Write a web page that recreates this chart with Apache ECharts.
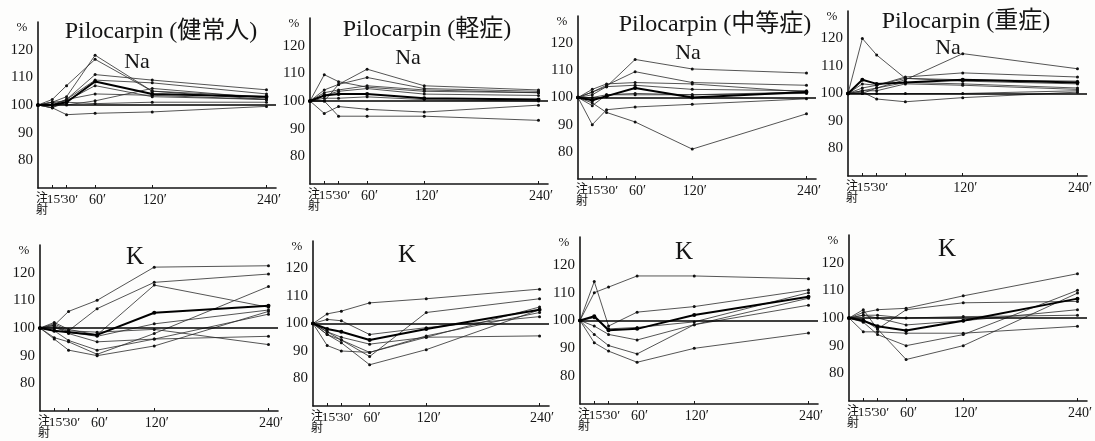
<!DOCTYPE html>
<html><head><meta charset="utf-8">
<script src="https://cdn.jsdelivr.net/npm/echarts@6/dist/echarts.min.js"></script>
<style>html,body{margin:0;padding:0;background:#fff}#c{width:1095px;height:441px}</style>
</head><body><div id="c"></div>
<script>
// ---------- data ----------
const times = [0, 15, 30, 60, 120, 240];
const xTickValues = [0, 15, 30, 60, 120, 240];
const xTickLabels = ['注\n射', '15′', '30′', '60′', '120′', '240′'];
const yTickLabels = [80, 90, 100, 110, 120];
const panelTitles = ['Pilocarpin (健常人)', 'Pilocarpin (軽症)', 'Pilocarpin (中等症)', 'Pilocarpin (重症)'];
const ionLabels = ['Na', 'Na', 'Na', 'Na', 'K', 'K', 'K', 'K'];
const unitLabel = '%';
const baseline = 100;
// the 60′ label is not printed under the Na (重症) panel in the original
const missingXLabels = [[], [], [], [60], [], [], [], []];

// Na, 健常人
const naHealthyMean = [100, 100, 101, 108.5, 104, 103];
const naHealthy = [
  [100, 101, 103, 118, 105, 103],
  [100, 102, 107, 116.5, 105, 102],
  [100, 99, 102, 111, 109, 105.5],
  [100, 100, 102, 109, 108, 104],
  [100, 101, 101.5, 107, 103, 102],
  [100, 100, 102, 104, 103.5, 102],
  [100, 101, 100, 101.5, 106, 102.5],
  [100, 99, 96.5, 97, 97.5, 99.5],
  [100, 99, 101, 100.5, 101, 101]
];
// Na, 軽症
const naMildMean = [100, 102, 102.5, 102.5, 101, 100.5];
const naMild = [
  [100, 109.5, 107, 105, 103.5, 103],
  [100, 100, 106, 111.5, 105.5, 104],
  [100, 104, 106, 108.5, 104.5, 103.5],
  [100, 103, 104, 105.5, 104, 103],
  [100, 102, 103.5, 104.5, 102.5, 102],
  [100, 101, 101, 101.5, 100.5, 100],
  [100, 95.5, 98, 97, 96, 98.5],
  [100, 100, 94.5, 94.5, 94.5, 93]
];
// Na, 中等症
const naModerateMean = [100, 99, 100.5, 103.5, 100, 102];
const naModerate = [
  [100, 102, 104, 114, 110.5, 109],
  [100, 102, 104.5, 109.5, 105.5, 104.5],
  [100, 103, 105, 105.5, 105, 102],
  [100, 101, 104, 104.5, 103, 102.5],
  [100, 100, 101, 101.5, 101, 102],
  [100, 97, 101, 101, 101, 101.5],
  [100, 90, 95.5, 96.5, 97.5, 99.5],
  [100, 98, 94.5, 91, 81, 94]
];
// Na, 重症
const naSevereMean = [100, 105, 103.5, 104, 105, 104];
const naSevere = [
  [100, 120, 114, 105.5, 104.5, 103.5],
  [100, 100, 102, 105, 114.5, 109],
  [100, 103.5, 103, 106, 107.5, 106],
  [100, 102, 103, 105.5, 105, 104.5],
  [100, 101, 102, 104, 103.5, 102],
  [100, 101, 101, 103.5, 103, 101.5],
  [100, 100, 100, 100, 100, 101],
  [100, 100.5, 98, 97, 98.5, 100.5]
];
// K, 健常人
const kHealthyMean = [100, 99, 98.5, 97.5, 105.5, 108];
const kHealthy = [
  [100, 101, 106, 110, 122, 122.5],
  [100, 101.5, 99, 107, 116.5, 119.5],
  [100, 102, 99.5, 97.5, 115.5, 107.5],
  [100, 101, 98.5, 97, 101.5, 106.5],
  [100, 100.5, 98, 95, 96, 105],
  [100, 96.5, 95, 90.5, 98, 115],
  [100, 96, 92, 90, 93.5, 106],
  [100, 99, 95.5, 92, 96, 97],
  [100, 100, 99, 98.5, 99.5, 94]
];
// K, 軽症
const kMildMean = [100, 98, 97, 94, 98, 105];
const kMild = [
  [100, 103.5, 104.5, 107.5, 109, 112.5],
  [100, 101.5, 101, 96, 98.5, 102.5],
  [100, 97, 94, 88, 104, 109],
  [100, 97, 95, 92.5, 95, 106],
  [100, 96, 94, 89.5, 95.5, 104],
  [100, 92, 90, 89.5, 95, 95.5],
  [100, 96, 93, 85, 90.5, 105]
];
// K, 中等症
const kModerateMean = [100, 101.5, 96.5, 97, 102, 108.5];
const kModerate = [
  [100, 110, 112, 116, 116, 115],
  [100, 114, 98, 103, 105, 111],
  [100, 101, 97, 97.5, 99.5, 110],
  [100, 98, 95, 93, 98.5, 105.5],
  [100, 95, 91, 88, 98.5, 108],
  [100, 92, 89, 85, 90, 95.5]
];
// K, 重症
const kSevereMean = [100, 99, 97, 95.5, 99, 107];
const kSevere = [
  [100, 102, 103, 103.5, 108, 116],
  [100, 103, 96, 103, 105.5, 106],
  [100, 101, 100, 97.5, 99, 103],
  [100, 98.5, 94, 90, 94, 110],
  [100, 99.5, 96, 85, 90, 109],
  [100, 95, 95, 94.5, 94.5, 97],
  [100, 101, 101, 100, 100.5, 101]
];

const panelSeries = [naHealthy, naMild, naModerate, naSevere, kHealthy, kMild, kModerate, kSevere];
const panelMeans = [naHealthyMean, naMildMean, naModerateMean, naSevereMean, kHealthyMean, kMildMean, kModerateMean, kSevereMean];

// ---------- layout ----------
const layouts = [
  {left: 38, top: 22, width: 238, height: 166},
  {left: 310, top: 18, width: 238, height: 166},
  {left: 578, top: 16, width: 238, height: 163},
  {left: 848, top: 11, width: 240, height: 165},
  {left: 40, top: 245, width: 238, height: 166},
  {left: 313, top: 241, width: 236, height: 165},
  {left: 580, top: 237, width: 238, height: 167},
  {left: 849, top: 235, width: 240, height: 166}
];
const titlePos = [[161, 32], [427, 30], [715, 25], [966, 22]];
const ionPos = [[137, 62], [408, 58], [688, 53], [948, 48], [135, 257], [407, 255], [684, 252], [947, 249]];
// crowded first three x labels are drawn as free text, offset (px) from the y axis
const crowdedLabelDx = [4, 17, 32];
const crowdedCount = 3;

const SERIF = 'Liberation Serif, Noto Sans CJK JP, serif';
const INK = '#151515';

const grid = [], xAxis = [], yAxis = [], series = [], graphic = [];

layouts.forEach((L, p) => {
  grid.push({left: L.left, top: L.top, width: L.width, height: L.height, containLabel: false});
  xAxis.push({
    gridIndex: p, type: 'value', min: 0, max: 250,
    axisLine: {show: true, onZero: false, lineStyle: {color: INK, width: 1.6}},
    splitLine: {show: false},
    axisTick: {show: true, inside: true, length: 3, customValues: xTickValues.slice(1), lineStyle: {color: INK, width: 1}},
    axisLabel: {
      customValues: xTickValues.slice(crowdedCount).filter(v => missingXLabels[p].indexOf(v) < 0),
      color: INK, fontFamily: SERIF, fontSize: 14, margin: 5,
      formatter: v => {
        const i = xTickValues.indexOf(v);
        return i >= 0 ? '{n|' + xTickLabels[i] + '}' : '';
      },
      rich: {n: {fontFamily: SERIF, fontSize: 14, color: INK, padding: [0, 0, 0, 5]}}
    }
  });
  yAxis.push({
    gridIndex: p, type: 'value', min: 70, max: 130, interval: 10,
    axisLine: {show: true, onZero: false, lineStyle: {color: INK, width: 1.6}},
    splitLine: {show: false},
    axisTick: {show: false},
    axisLabel: {
      color: INK, fontFamily: SERIF, fontSize: 15, margin: 5,
      formatter: v => yTickLabels.indexOf(v) >= 0 ? String(v) : ''
    }
  });
  const toData = vals => times.map((t, i) => [t, vals[i]]).filter(d => d[1] != null);
  panelSeries[p].forEach(vals => {
    series.push({
      type: 'line', xAxisIndex: p, yAxisIndex: p, data: toData(vals),
      symbol: 'circle', symbolSize: 3, showSymbol: true,
      lineStyle: {color: '#2a2a2a', width: 0.8}, itemStyle: {color: '#111'},
      silent: true, animation: false, z: 2
    });
  });
  series.push({
    type: 'line', xAxisIndex: p, yAxisIndex: p, data: toData(panelMeans[p]),
    symbol: 'circle', symbolSize: 4,
    lineStyle: {color: '#000', width: 2}, itemStyle: {color: '#000'},
    silent: true, animation: false, z: 3,
    markLine: {
      silent: true, symbol: 'none', animation: false, label: {show: false},
      lineStyle: {type: 'solid', color: '#000', width: 1.5},
      data: [{yAxis: baseline}]
    }
  });
  // crowded first x labels (注射, 15′, 30′)
  for (let i = 0; i < crowdedCount; i++) {
    graphic.push({
      type: 'text', x: L.left + crowdedLabelDx[i], y: L.top + L.height + 5,
      style: {text: xTickLabels[i], fill: INK, fontFamily: SERIF, fontSize: i === 0 ? 12 : 13.5,
        lineHeight: 12, align: 'center', verticalAlign: 'top'}
    });
  }
  graphic.push({
    type: 'text', x: L.left - 16, y: L.top + 6,
    style: {text: unitLabel, fill: INK, fontFamily: SERIF, fontSize: 13, align: 'center', verticalAlign: 'middle'}
  });
  graphic.push({
    type: 'text', x: ionPos[p][0], y: ionPos[p][1],
    style: {text: ionLabels[p], fill: INK, fontFamily: SERIF, fontSize: p < 4 ? 22 : 25, align: 'center', verticalAlign: 'middle'}
  });
});
panelTitles.forEach((t, i) => {
  graphic.push({
    type: 'text', x: titlePos[i][0], y: titlePos[i][1],
    style: {text: t, fill: INK, fontFamily: SERIF, fontSize: 24, align: 'center', verticalAlign: 'middle'}
  });
});

const chart = echarts.init(document.getElementById('c'), null, {renderer: 'canvas', width: 1095, height: 441});
chart.setOption({
  backgroundColor: '#fdfdfc',
  animation: false,
  grid, xAxis, yAxis, series, graphic
});
</script>
</body></html>
